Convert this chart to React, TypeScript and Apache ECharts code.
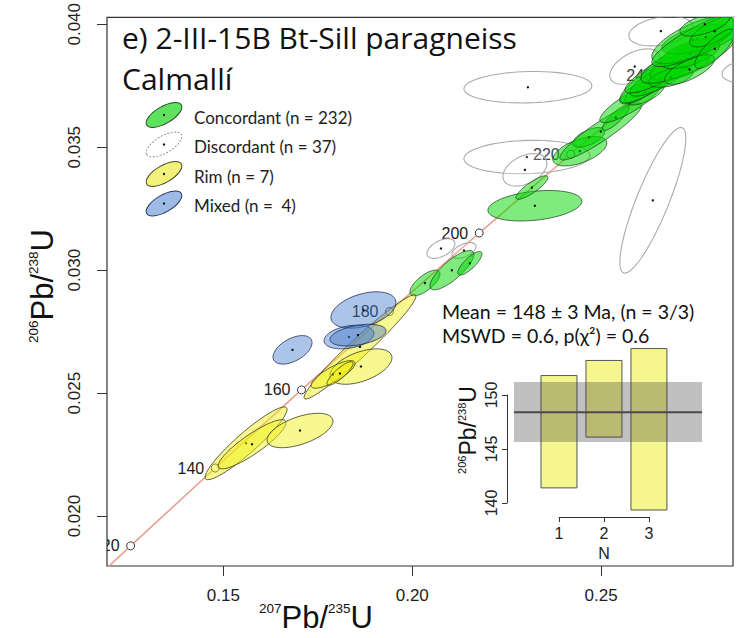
import React, { useEffect, useRef } from "react";
import * as echarts from "echarts";

// Concordia curve (ages in Ma and their 207Pb/235U, 206Pb/238U ratios)
const concordiaAges = [100, 120, 140, 160, 180, 200, 220, 240, 260];
const concordiaX = [0.1035, 0.12545, 0.14784, 0.17068, 0.19397, 0.21772, 0.24194, 0.26663, 0.29182];
const concordiaY = [0.015633, 0.018789, 0.021955, 0.025131, 0.028316, 0.031511, 0.034717, 0.037932, 0.041157];
const markerAges = [120, 140, 160, 180, 200, 220, 240];

// Ellipses: [207/235 centre, 206/238 centre, half-range 207/235, half-range 206/238, rho]
const discordant = [
  [0.23061, 0.03744, 0.01693, 0.00064, 0.1],
  [0.23034, 0.0346, 0.01667, 0.00068, 0.1],
  [0.22981, 0.03408, 0.00582, 0.00066, 0.4],
  [0.26368, 0.03284, 0.00873, 0.00296, 0.85],
  [0.26582, 0.03972, 0.00847, 0.0006, 0.3],
  [0.25889, 0.03828, 0.00661, 0.00072, 0.5],
  [0.2886, 0.03812, 0.0066, 0.00048, 0.3],
  [0.20759, 0.03088, 0.0037, 0.0004, 0.5],
  [0.21368, 0.0308, 0.0032, 0.00032, 0.5],
];
const concordant = [
  [0.20336, 0.02948, 0.00397, 0.00052, 0.7],
  [0.2105, 0.03, 0.00582, 0.0008, 0.8],
  [0.21526, 0.03028, 0.0032, 0.00048, 0.8],
  [0.23246, 0.03262, 0.01243, 0.00062, 0.3],
  [0.23167, 0.03336, 0.00423, 0.00048, 0.85],
  [0.24436, 0.03484, 0.00714, 0.0006, 0.55],
  [0.24674, 0.0354, 0.00423, 0.0004, 0.6],
  [0.24992, 0.03564, 0.01085, 0.00116, 0.92],
  [0.25389, 0.0362, 0.00357, 0.00052, 0.85],
  [0.2576, 0.0368, 0.00794, 0.0008, 0.85],
  [0.26156, 0.03724, 0.00529, 0.00052, 0.6],
  [0.25971, 0.03724, 0.00476, 0.00048, 0.7],
  [0.26421, 0.0378, 0.00926, 0.001, 0.85],
  [0.26553, 0.0378, 0.00794, 0.00072, 0.8],
  [0.26778, 0.03824, 0.01151, 0.00104, 0.88],
  [0.27082, 0.0383, 0.00794, 0.00058, 0.6],
  [0.26844, 0.03784, 0.00582, 0.0004, 0.5],
  [0.27294, 0.0386, 0.01243, 0.001, 0.8],
  [0.27347, 0.0388, 0.00794, 0.0006, 0.6],
  [0.27339, 0.03816, 0.00661, 0.0006, 0.7],
  [0.27532, 0.0394, 0.00926, 0.0006, 0.6],
  [0.27426, 0.03936, 0.01085, 0.00096, 0.7],
  [0.2777, 0.03948, 0.01429, 0.0012, 0.85],
  [0.28003, 0.03972, 0.00661, 0.00064, 0.7],
  [0.27744, 0.04, 0.00661, 0.00048, 0.6],
  [0.28009, 0.039, 0.00529, 0.0008, 0.8],
];
const rim = [
  [0.15601, 0.02296, 0.01085, 0.00148, 0.93],
  [0.15759, 0.02292, 0.00899, 0.001, 0.88],
  [0.17029, 0.02348, 0.00873, 0.0007, 0.55],
  [0.18616, 0.02688, 0.01481, 0.00212, 0.97],
  [0.18643, 0.02608, 0.0082, 0.00072, 0.5],
  [0.17902, 0.02576, 0.00582, 0.00056, 0.8],
  [0.18087, 0.0258, 0.00344, 0.00048, 0.85],
];
const mixed = [
  [0.16831, 0.02676, 0.00516, 0.00058, 0.5],
  [0.18709, 0.02838, 0.0086, 0.00074, 0.4],
  [0.18325, 0.02728, 0.00661, 0.00048, 0.3],
  [0.18563, 0.02736, 0.00741, 0.00044, 0.4],
];

// Weighted-mean inset
const insetN = [1, 2, 3];
const insetLow = [141.4, 146.1, 139.35];
const insetHigh = [151.8, 153.2, 154.3];
const meanAge = [148.4];
const meanLow = [145.65];
const meanHigh = [151.2];

const xTicks = [0.15, 0.2, 0.25];
const yTicks = [0.02, 0.025, 0.03, 0.035, 0.04];

const legendItems = [
  { label: "Concordant (n = 232)", fill: "#5fe35f", stroke: "#2a4a2a", dash: null },
  { label: "Discordant (n = 37)", fill: "#ffffff", stroke: "#9a9a9a", dash: [2, 1.5] },
  { label: "Rim (n = 7)", fill: "#f2f27a", stroke: "#444422", dash: null },
  { label: "Mixed (n =  4)", fill: "#9dbbe6", stroke: "#2a3a5a", dash: null },
];

function ellipseRenderer(fill: string, stroke: string, lw: number, dash?: number[]) {
  return (params: any, api: any) => {
    const cx = api.value(0), cy = api.value(1), ax = api.value(2), by = api.value(3), r = api.value(4);
    const s = Math.sqrt(1 - r * r);
    const pts: number[][] = [];
    for (let i = 0; i < 72; i++) {
      const t = (i / 72) * Math.PI * 2;
      pts.push(api.coord([cx + ax * Math.cos(t), cy + by * (r * Math.cos(t) + s * Math.sin(t))]));
    }
    const c = api.coord([cx, cy]);
    return {
      type: "group",
      children: [
        { type: "polygon", shape: { points: pts }, style: { fill, stroke, lineWidth: lw, lineDash: dash || null } },
        { type: "circle", shape: { cx: c[0], cy: c[1], r: 1.2 }, style: { fill: "#111" } },
      ],
    };
  };
}

export default function App() {
  const ref = useRef<HTMLDivElement>(null);
  useEffect(() => {
    document.body.style.margin = "0";
    const chart = echarts.init(ref.current!, null, { renderer: "svg" });
    const concordiaLine = concordiaX.map((x, i) => [x, concordiaY[i]]);
    const markers = markerAges.map((a) => {
      const i = concordiaAges.indexOf(a);
      return [concordiaX[i], concordiaY[i], a];
    });
    const axisFont = "Liberation Sans";
    const textFont = "Lato";
    const titleFont = "Open Sans";

    const legendGraphics: any[] = [];
    legendItems.forEach((it, i) => {
      const y = 115 + i * 29.5;
      legendGraphics.push({
        type: "ellipse",
        x: 164,
        y,
        rotation: Math.PI / 6,
        shape: { cx: 0, cy: 0, rx: 20, ry: 8.5 },
        style: { fill: it.fill, stroke: it.stroke, lineWidth: 1, lineDash: it.dash },
      });
      legendGraphics.push({ type: "circle", shape: { cx: 164, cy: y, r: 1.2 }, style: { fill: "#111" } });
      legendGraphics.push({
        type: "text",
        x: 194,
        y: y + 2,
        style: { text: it.label, fontSize: 17, fontFamily: textFont, fill: "#222", verticalAlign: "middle", align: "left" },
      });
    });

    const option: any = {
      animation: false,
      backgroundColor: "#ffffff",
      grid: [
        { left: 107, right: 15, top: 6, bottom: 72, show: true, borderColor: "#333", borderWidth: 1.2, backgroundColor: "transparent" },
        { left: 514, width: 188, top: 341, height: 172.8 },
        { left: 507, width: 1, top: 395, height: 108 },
        { left: 559, width: 90, top: 516, height: 1 },
      ],
      xAxis: [
        {
          type: "value", gridIndex: 0, min: 0.1192, max: 0.2849,
          axisLine: { show: false }, splitLine: { show: false },
          axisTick: { show: true, length: 10, customValues: xTicks, lineStyle: { color: "#333" } },
          axisLabel: { customValues: xTicks, formatter: (v: number) => v.toFixed(2), fontSize: 17, color: "#222", margin: 21, fontFamily: axisFont },
        },
        { type: "value", gridIndex: 1, min: 0, max: 4.18, show: false },
        { type: "value", gridIndex: 2, min: 0, max: 1, show: false },
        {
          type: "value", gridIndex: 3, min: 1, max: 3, interval: 1, position: "bottom",
          axisLine: { show: true, lineStyle: { color: "#333", width: 1 } },
          axisTick: { show: true, length: 5, lineStyle: { color: "#333" } },
          axisLabel: { fontSize: 16, color: "#222", margin: 8, fontFamily: axisFont },
          splitLine: { show: false },
          name: "N", nameLocation: "middle", nameGap: 28,
          nameTextStyle: { fontSize: 16, color: "#222", fontFamily: axisFont },
        },
      ],
      yAxis: [
        {
          type: "value", gridIndex: 0, min: 0.01797, max: 0.04028,
          axisLine: { show: false }, splitLine: { show: false },
          axisTick: { show: true, length: 10, customValues: yTicks, lineStyle: { color: "#333" } },
          axisLabel: { customValues: yTicks, formatter: (v: number) => v.toFixed(3), fontSize: 17, color: "#222", margin: 24, rotate: 90, fontFamily: axisFont },
        },
        { type: "value", gridIndex: 1, min: 139, max: 155, show: false },
        {
          type: "value", gridIndex: 2, min: 140, max: 150, interval: 5,
          axisLine: { show: true, lineStyle: { color: "#333", width: 1 } },
          axisTick: { show: true, length: 5, lineStyle: { color: "#333" } },
          axisLabel: { fontSize: 16, color: "#222", margin: 8, rotate: 90, fontFamily: axisFont },
          splitLine: { show: false },
        },
        { type: "value", gridIndex: 3, min: 0, max: 1, show: false },
      ],
      series: [
        {
          type: "line", xAxisIndex: 0, yAxisIndex: 0, data: concordiaLine, showSymbol: false, z: 1,
          lineStyle: { color: "#e9a08c", width: 1.6 }, clip: true, silent: true,
        },
        {
          type: "custom", xAxisIndex: 0, yAxisIndex: 0, data: markers, z: 2, clip: true,
          encode: { x: 0, y: 1 },
          renderItem: (params: any, api: any) => {
            const c = api.coord([api.value(0), api.value(1)]);
            return {
              type: "group",
              children: [
                { type: "circle", shape: { cx: c[0], cy: c[1], r: 4 }, style: { fill: "#fff", stroke: "#333", lineWidth: 1 } },
                { type: "text", style: { text: String(api.value(2)), x: c[0] - 11, y: c[1], align: "right", verticalAlign: "middle", fontSize: 16, fontFamily: axisFont, fill: "#1a1a1a" } },
              ],
            };
          },
        },
        { type: "custom", xAxisIndex: 0, yAxisIndex: 0, data: discordant, z: 3, clip: true, encode: { x: 0, y: 1 }, renderItem: ellipseRenderer("rgba(255,255,255,0.15)", "#ababab", 1.1) },
        { type: "custom", xAxisIndex: 0, yAxisIndex: 0, data: concordant, z: 4, clip: true, encode: { x: 0, y: 1 }, renderItem: ellipseRenderer("rgba(0,215,0,0.5)", "rgba(30,60,30,0.8)", 0.9) },
        { type: "custom", xAxisIndex: 0, yAxisIndex: 0, data: rim, z: 5, clip: true, encode: { x: 0, y: 1 }, renderItem: ellipseRenderer("rgba(240,240,20,0.47)", "rgba(50,50,20,0.85)", 0.9) },
        { type: "custom", xAxisIndex: 0, yAxisIndex: 0, data: mixed, z: 6, clip: true, encode: { x: 0, y: 1 }, renderItem: ellipseRenderer("rgba(70,125,205,0.45)", "rgba(25,40,80,0.85)", 0.9) },
        {
          type: "custom", xAxisIndex: 1, yAxisIndex: 1, z: 7,
          data: insetN.map((n, i) => [n, insetLow[i], insetHigh[i]]),
          encode: { x: 0, y: [1, 2] },
          renderItem: (params: any, api: any) => {
            const a = api.coord([api.value(0) - 0.4, api.value(2)]);
            const b = api.coord([api.value(0) + 0.4, api.value(1)]);
            return { type: "rect", shape: { x: a[0], y: a[1], width: b[0] - a[0], height: b[1] - a[1] }, style: { fill: "#f6f68e", stroke: "#555", lineWidth: 1 } };
          },
        },
        {
          type: "custom", xAxisIndex: 1, yAxisIndex: 1, z: 8,
          data: meanAge.map((m, i) => [m, meanLow[i], meanHigh[i]]),
          encode: { y: [0, 1, 2] },
          renderItem: (params: any, api: any) => {
            const a = api.coord([0, api.value(2)]);
            const b = api.coord([4.18, api.value(1)]);
            const m = api.coord([0, api.value(0)]);
            return {
              type: "group",
              children: [
                { type: "rect", shape: { x: a[0], y: a[1], width: b[0] - a[0], height: b[1] - a[1] }, style: { fill: "rgba(60,60,60,0.32)" } },
                { type: "line", shape: { x1: a[0], y1: m[1], x2: b[0], y2: m[1] }, style: { stroke: "#4a4a4a", lineWidth: 2 } },
              ],
            };
          },
        },
      ],
      graphic: [
        { type: "text", x: 122, y: 37, style: { text: "e) 2-III-15B Bt-Sill paragneiss", fontSize: 30, fontFamily: titleFont, fill: "#111", verticalAlign: "middle" } },
        { type: "text", x: 122, y: 78, style: { text: "Calmallí", fontSize: 30, fontFamily: titleFont, fill: "#111", verticalAlign: "middle" } },
        ...legendGraphics,
        { type: "text", x: 442, y: 311, style: { text: "Mean = 148 ± 3 Ma, (n = 3/3)", fontSize: 19.5, fontFamily: textFont, fill: "#111", verticalAlign: "middle" } },
        { type: "text", x: 442, y: 335, style: { text: "MSWD = 0.6, p(χ²) = 0.6", fontSize: 19.5, fontFamily: textFont, fill: "#111", verticalAlign: "middle" } },
        {
          type: "text", x: 259, y: 617,
          style: {
            text: "{s|207}{b|Pb/}{s|235}{b|U}", fill: "#111", verticalAlign: "middle",
            rich: { s: { fontSize: 13.5, fontFamily: axisFont, verticalAlign: "top", fill: "#111" }, b: { fontSize: 31, fontFamily: axisFont, fill: "#111" } },
          },
        },
        {
          type: "text", x: 42, y: 286, rotation: Math.PI / 2,
          style: {
            text: "{s|206}{b|Pb/}{s|238}{b|U}", fill: "#111", align: "center", verticalAlign: "middle",
            rich: { s: { fontSize: 13.5, fontFamily: axisFont, verticalAlign: "top", fill: "#111" }, b: { fontSize: 31, fontFamily: axisFont, fill: "#111" } },
          },
        },
        {
          type: "text", x: 468, y: 430, rotation: Math.PI / 2,
          style: {
            text: "{s|206}{b|Pb/}{s|238}{b|U}", fill: "#111", align: "center", verticalAlign: "middle",
            rich: { s: { fontSize: 11, fontFamily: axisFont, verticalAlign: "top", fill: "#111" }, b: { fontSize: 23, fontFamily: axisFont, fill: "#111" } },
          },
        },
      ],
    };
    chart.setOption(option);
    return () => chart.dispose();
  }, []);
  return <div ref={ref} style={{ position: "fixed", left: 0, top: 0, width: 748, height: 638 }} />;
}
